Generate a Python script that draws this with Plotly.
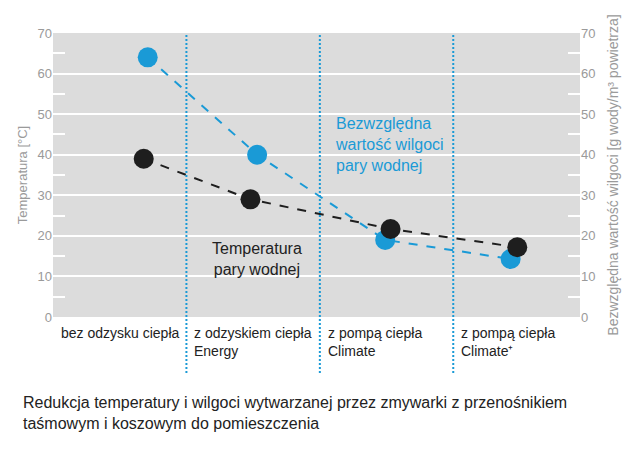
import plotly.graph_objects as go

categories = ["bez odzysku ciepła", "z odzyskiem ciepła<br>Energy", "z pompą ciepła<br>Climate", "z pompą ciepła<br>Climate⁺"]
cat_start = [0, 1, 2, 3]
humid_x = [0.71, 1.53, 2.49, 3.43]
humid_y = [64, 40, 19, 14.3]
temp_x = [0.68, 1.48, 2.53, 3.48]
temp_y = [39, 29, 21.7, 17.2]
yticks = [0, 10, 20, 30, 40, 50, 60, 70]

BLUE = "#1a9ad6"
FONT = "Liberation Sans, Arial"

fig = go.Figure()
fig.add_trace(go.Scatter(x=humid_x, y=humid_y, mode="lines+markers", yaxis="y",
                         line=dict(color=BLUE, width=2, dash="dash"),
                         marker=dict(color=BLUE, size=20), showlegend=False))
fig.add_trace(go.Scatter(x=temp_x, y=temp_y, mode="lines+markers", yaxis="y2",
                         line=dict(color="#1e1e1e", width=2, dash="dash"),
                         marker=dict(color="#1e1e1e", size=20), showlegend=False))

for xs in cat_start[1:]:
    fig.add_shape(type="line", xref="x", yref="paper", x0=xs, x1=xs, y0=-0.197, y1=1,
                  line=dict(color=BLUE, width=2, dash="2px,2px"), layer="above")

for xs, lab in zip(cat_start, categories):
    fig.add_annotation(x=xs, y=0, xref="x", yref="paper", text=lab, showarrow=False,
                       xanchor="left", yanchor="top", align="left", xshift=6, yshift=-6,
                       font=dict(size=14, color="#222222", family=FONT))

fig.add_annotation(x=2.1, y=42.5, xref="x", yref="y", text="Bezwzględna<br>wartość wilgoci<br>pary wodnej",
                   showarrow=False, xanchor="left", yanchor="middle", align="left",
                   font=dict(size=16, color=BLUE, family=FONT))
fig.add_annotation(x=1.53, y=14.3, xref="x", yref="y", text="Temperatura<br>pary wodnej",
                   showarrow=False, xanchor="center", yanchor="middle", align="center",
                   font=dict(size=16, color="#222222", family=FONT))

fig.add_annotation(x=-0.061, y=-0.264, xref="paper", yref="paper",
                   text="Redukcja temperatury i wilgoci wytwarzanej przez zmywarki z przenośnikiem<br>taśmowym i koszowym do pomieszczenia",
                   showarrow=False, xanchor="left", yanchor="top", align="left",
                   font=dict(size=16, color="#222222", family=FONT))

axis_common = dict(range=[0, 70], tickvals=yticks, tickfont=dict(size=13, color="#9a9a9a", family=FONT),
                   ticks="inside", ticklen=12, tickcolor="white", tickwidth=2,
                   minor=dict(tick0=5, dtick=10, ticks="inside", ticklen=12, tickcolor="white", tickwidth=2),
                   zeroline=False, showline=False, fixedrange=True, automargin=False)

fig.update_layout(
    width=622, height=467,
    margin=dict(l=45, r=50, t=25, b=158),
    paper_bgcolor="white", plot_bgcolor="#dcdcdc",
    xaxis=dict(range=[0, 3.95], showticklabels=False, showgrid=False, zeroline=False, ticks="", automargin=False),
    yaxis=dict(**axis_common, showgrid=True, gridcolor="white", gridwidth=2,
               title=dict(text="Temperatura [°C]", font=dict(size=13, color="#9a9a9a", family=FONT), standoff=6)),
    yaxis2=dict(**axis_common, overlaying="y", side="right", showgrid=False,
                title=dict(text="Bezwzględna wartość wilgoci [g wody/m³ powietrza]",
                           font=dict(size=14, color="#9a9a9a", family=FONT), standoff=13)),
)

fig.write_html("out.html")
